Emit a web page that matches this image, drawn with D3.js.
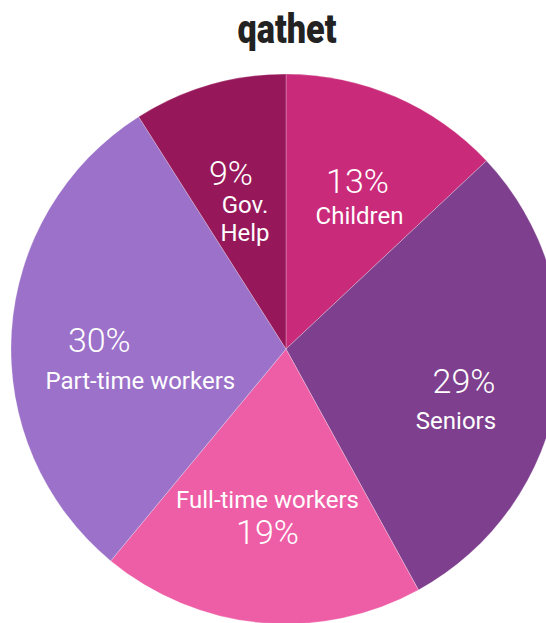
<!DOCTYPE html>
<html>
<head>
<meta charset="UTF-8">
<title>qathet</title>
<script src="https://cdn.jsdelivr.net/npm/d3@7"></script>
<style>
body{margin:0;background:#fff;}
svg{display:block;}
.pct{font-family:Roboto,"Open Sans",sans-serif;font-weight:300;fill:#fff;}
.lbl{font-family:Roboto,"Open Sans",sans-serif;font-weight:400;fill:#fff;}
</style>
</head>
<body>
<script>
var width=546,height=623;
// data
var categories=["Children","Seniors","Full-time workers","Part-time workers","Gov. Help"];
var values=[13,29,19,30,9];
var colors=["#c92a7a","#7e3f8e","#ee5ea6","#9b71c9","#97185a"];
// how each label is written: lines, "%" stands for the percentage
var labelLines=[["%","Children"],["%","Seniors"],["Full-time workers","%"],["%","Part-time workers"],["%","Gov.","Help"]];
// nudges of each line from the slice centroid (dx,dy)
var lineOffsets=[
  [[6,-17],[8,18]],
  [[15,6],[7,46]],
  [[-3,-13],[-3,19]],
  [[-22,1],[19,42]],
  [[-9,-18],[5,14],[5,42]]
];

var cx=286,cy=349,radius=275;

var svg=d3.select("body").append("svg")
  .attr("width",width)
  .attr("height",height);

svg.append("text")
  .attr("x",287)
  .attr("y",43)
  .attr("text-anchor","middle")
  .attr("font-family","Roboto,sans-serif")
  .attr("font-weight","900")
  .attr("font-size","41px")
  .attr("textLength",99)
  .attr("lengthAdjust","spacingAndGlyphs")
  .attr("fill","#222")
  .text("qathet");

var pie=d3.pie().sort(null).value(function(d){return d;});
var arc=d3.arc().innerRadius(0).outerRadius(radius);
var arcs=pie(values);

var g=svg.append("g").attr("transform","translate("+cx+","+cy+")");

g.selectAll("path")
  .data(arcs)
  .enter()
  .append("path")
  .attr("d",arc)
  .attr("fill",function(d,i){return colors[i];})
  .attr("stroke","rgba(255,255,255,0.25)")
  .attr("stroke-width",1);

var labelArc=d3.arc().innerRadius(radius*0.6).outerRadius(radius*0.6);

var labels=g.selectAll("g.label")
  .data(arcs)
  .enter()
  .append("g")
  .attr("class","label")
  .attr("transform",function(d){
    var c=labelArc.centroid(d);
    return "translate("+c[0]+","+c[1]+")";
  });

labels.each(function(d,i){
  var sel=d3.select(this);
  labelLines[i].forEach(function(t,k){
    var isPct=(t=="%");
    sel.append("text")
      .attr("class",isPct?"pct":"lbl")
      .attr("text-anchor","middle")
      .attr("x",lineOffsets[i][k][0])
      .attr("y",lineOffsets[i][k][1])
      .attr("dominant-baseline","central")
      .attr("font-size",isPct?"34px":"24px")
      .text(isPct?d.data+"%":t);
  });
});
</script>
</body>
</html>
